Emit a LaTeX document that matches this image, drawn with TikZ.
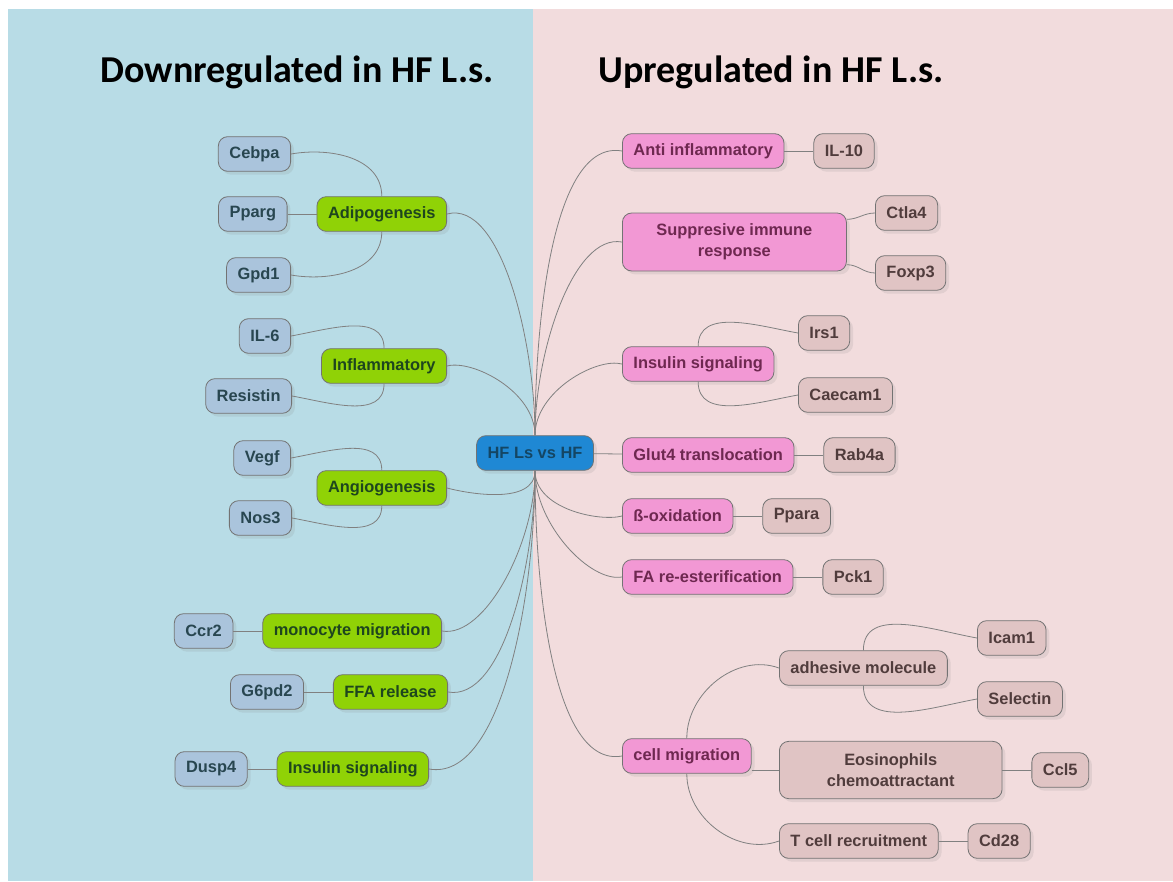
\documentclass[tikz,border=0pt]{standalone}
\usepackage{fontspec}
\setmainfont{Liberation Sans}
\newfontfamily\headfont{Carlito}
\usetikzlibrary{positioning,shadows}

\definecolor{downbg}{RGB}{184,220,230}
\definecolor{upbg}{RGB}{242,220,221}
\definecolor{hubfill}{RGB}{31,136,212}
\definecolor{downfill}{RGB}{144,210,6}
\definecolor{downleaf}{RGB}{170,196,220}
\definecolor{upfill}{RGB}{242,152,212}
\definecolor{upleaf}{RGB}{224,196,196}
\definecolor{linkgrey}{RGB}{128,128,128}

\begin{document}
\begin{tikzpicture}[x=0.75pt,y=-0.75pt,node distance=21.75pt,
    box/.style={draw=black!55,line width=0.6pt,rounded corners=7pt,
      inner xsep=8.3pt,inner ysep=3pt,minimum height=26pt,align=center,
      font=\fontsize{12.3}{15.5}\selectfont\bfseries,
      drop shadow={opacity=0.15,shadow xshift=2.5pt,shadow yshift=-2.5pt}},
    hub/.style={box,fill=hubfill,text={rgb,255:red,20;green,70;blue,100}},
    downbox/.style={box,fill=downfill,text={rgb,255:red,30;green,70;blue,30}},
    downgene/.style={box,fill=downleaf,text={rgb,255:red,40;green,70;blue,80}},
    upbox/.style={box,fill=upfill,text={rgb,255:red,110;green,40;blue,80}},
    upgene/.style={box,fill=upleaf,text={rgb,255:red,80;green,60;blue,60}},
    heading/.style={font=\headfont\bfseries\fontsize{28.5}{30}\selectfont},
    link/.style={draw=linkgrey,line width=0.6pt}]

  % panels
  \useasboundingbox (0,0) rectangle (1173,881);
  \fill[white] (0,0) rectangle (1173,881);
  \fill[downbg] (8,9) rectangle (533,881);
  \fill[upbg] (533,9) rectangle (1173,881);

  \node[heading] (downtitle) at (297,72) {Downregulated in HF L.s.};
  \node[heading] (uptitle) at (771,72) {Upregulated in HF L.s.};

  % centre
  \node[hub] (hub) at (535,453) {HF Ls vs HF};

  % down side
  \node[downbox,anchor=east] (adipo) at (447,214) {Adipogenesis};
  \node[downbox,anchor=east] (inflam) at (447,366) {Inflammatory};
  \node[downbox,anchor=east] (angio) at (447,488) {Angiogenesis};
  \node[downbox,anchor=east] (mono) at (442,631) {monocyte migration};
  \node[downbox,anchor=east] (ffa) at (448,692) {FFA release};
  \node[downbox,anchor=east] (insdown) at (429,769) {Insulin signaling};

  \node[downgene,anchor=east] (cebpa) at (291,154) {Cebpa};
  \node[downgene] (pparg) [left=of adipo] {Pparg};
  \node[downgene,anchor=east] (gpd1) at (291,275) {Gpd1};
  \node[downgene,anchor=east] (il6) at (291,336) {IL-6};
  \node[downgene,anchor=east] (resistin) at (292,396) {Resistin};
  \node[downgene,anchor=east] (vegf) at (291,458) {Vegf};
  \node[downgene,anchor=east] (nos3) at (292,518) {Nos3};
  \node[downgene] (ccr2) [left=of mono] {Ccr2};
  \node[downgene] (g6pd2) [left=of ffa] {G6pd2};
  \node[downgene] (dusp4) [left=of insdown] {Dusp4};

  % up side
  \node[upbox,anchor=west] (antiinfl) at (622,151) {Anti inflammatory};
  \node[upbox,anchor=west,minimum width=168pt,minimum height=43.5pt] (suppr) at (622,242) {Suppresive immune\\response};
  \node[upbox,anchor=west] (insup) at (622,364) {Insulin signaling};
  \node[upbox,anchor=west] (glut4) at (622,455) {Glut4 translocation};
  \node[upbox,anchor=west] (betaox) at (622,516) {ß-oxidation};
  \node[upbox,anchor=west] (faester) at (622,577) {FA re-esterification};
  \node[upbox,anchor=west] (cellmig) at (622,756) {cell migration};

  \node[upgene] (il10) [right=of antiinfl] {IL-10};
  \node[upgene,anchor=west] (ctla4) at (875,213) {Ctla4};
  \node[upgene,anchor=west] (foxp3) at (875,273) {Foxp3};
  \node[upgene,anchor=west] (irs1) at (798,333) {Irs1};
  \node[upgene,anchor=west] (caecam1) at (798,395) {Caecam1};
  \node[upgene] (rab4a) [right=of glut4] {Rab4a};
  \node[upgene] (ppara) [right=of betaox] {Ppara};
  \node[upgene] (pck1) [right=of faester] {Pck1};
  \node[upgene,anchor=west] (adhes) at (779,668) {adhesive molecule};
  \node[upgene,anchor=west] (icam1) at (977,638) {Icam1};
  \node[upgene,anchor=west] (selectin) at (977,699) {Selectin};
  \node[upgene,anchor=west,minimum width=167pt,minimum height=43pt] (eosino) at (779,770) {Eosinophils\\chemoattractant};
  \node[upgene] (ccl5) [right=of eosino] {Ccl5};
  \node[upgene,anchor=west] (tcell) at (779,841) {T cell recruitment};
  \node[upgene] (cd28) [right=of tcell] {Cd28};

  % spokes from the centre
  \path[link,in looseness=0.6] (hub.north) edge[out=90,in=15] (adipo.east)
                          edge[out=90,in=15] (inflam.east)
                          edge[out=90,in=170] (antiinfl.west)
                          edge[out=90,in=170] (suppr.west)
                          edge[out=90,in=165] (insup.west)
                     (hub.south) edge[out=-90,in=-15] (angio.east)
                          edge[out=-90,in=-10] (mono.east)
                          edge[out=-90,in=-10] (ffa.east)
                          edge[out=-90,in=-10] (insdown.east)
                          edge[out=-90,in=-165] (betaox.west)
                          edge[out=-90,in=-170] (faester.west)
                          edge[out=-90,in=-170] (cellmig.west);
  \path[link] (hub) edge (glut4);

  % branches
  \path[link] (adipo.north) edge[out=90,in=10] (cebpa.east)
              (adipo.south) edge[out=-90,in=-10] (gpd1.east)
              (adipo) edge (pparg)
              (inflam.north) edge[out=90,in=10] (il6.east)
              (inflam.south) edge[out=-90,in=-10] (resistin.east)
              (angio.north) edge[out=90,in=10] (vegf.east)
              (angio.south) edge[out=-90,in=-10] (nos3.east)
              (mono) edge (ccr2)
              (ffa) edge (g6pd2)
              (insdown) edge (dusp4);

  \path[link] (antiinfl) edge (il10)
              ([yshift=17pt]suppr.east) edge[out=0,in=180] (ctla4.west)
              ([yshift=-17pt]suppr.east) edge[out=0,in=180] (foxp3.west)
              (insup.north) edge[out=90,in=170] (irs1.west)
              (insup.south) edge[out=-90,in=-170] (caecam1.west)
              (glut4) edge (rab4a)
              (betaox) edge (ppara)
              (faester) edge (pck1)
              (cellmig.north) edge[out=90,in=160] (adhes.west)
              (cellmig.east |- eosino.west) edge (eosino.west)
              (cellmig.south) edge[out=-90,in=-160] (tcell.west)
              (adhes.north) edge[out=90,in=170] (icam1.west)
              (adhes.south) edge[out=-90,in=-170] (selectin.west)
              (eosino) edge (ccl5)
              (tcell) edge (cd28);
\end{tikzpicture}
\end{document}
